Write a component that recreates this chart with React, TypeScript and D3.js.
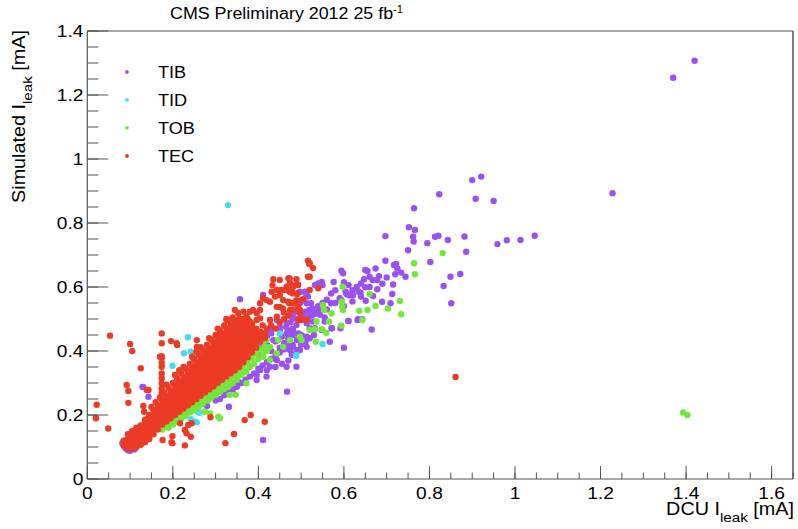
import React from "react";
import * as d3 from "d3";

const W = 798;
const H = 529;

const xMajorTicks = [0, 0.2, 0.4, 0.6, 0.8, 1, 1.2, 1.4, 1.6];
const xTickLabels = ["0", "0.2", "0.4", "0.6", "0.8", "1", "1.2", "1.4", "1.6"];
const yMajorTicks = [0, 0.2, 0.4, 0.6, 0.8, 1, 1.2, 1.4];
const yTickLabels = ["0", "0.2", "0.4", "0.6", "0.8", "1", "1.2", "1.4"];

const seriesNames = ["TIB", "TID", "TOB", "TEC"];
const seriesColors = ["#9b51f2", "#46dcf0", "#72e83a", "#ec3b25"];

type P = [number, number];

const tib: P[] = [
  [1.42, 1.307], [1.37, 1.254], [1.228, 0.893], [1.046, 0.76], [1.013, 0.747], [0.981, 0.746], [0.959, 0.734],
  [0.9, 0.934], [0.921, 0.945], [0.823, 0.89], [0.908, 0.876], [0.95, 0.869], [0.764, 0.846], [0.752, 0.787],
  [0.766, 0.778], [0.697, 0.759], [0.762, 0.757], [0.763, 0.742], [0.813, 0.757], [0.821, 0.76], [0.843, 0.747],
  [0.882, 0.758], [0.795, 0.737], [0.75, 0.715], [0.886, 0.71], [0.697, 0.682], [0.802, 0.678], [0.722, 0.672],
  [0.717, 0.669], [0.725, 0.658], [0.674, 0.658], [0.65, 0.653], [0.655, 0.65], [0.594, 0.651], [0.598, 0.643],
  [0.734, 0.645], [0.744, 0.632], [0.849, 0.632], [0.872, 0.641], [0.833, 0.603], [0.851, 0.549], [0.66, 0.632],
  [0.682, 0.634], [0.667, 0.622], [0.678, 0.622], [0.647, 0.624], [0.64, 0.611], [0.715, 0.608], [0.576, 0.616],
  [0.6, 0.615], [0.611, 0.606], [0.65, 0.599], [0.678, 0.593], [0.604, 0.585], [0.606, 0.578], [0.612, 0.574],
  [0.621, 0.574], [0.634, 0.585], [0.639, 0.582], [0.668, 0.572], [0.713, 0.578], [0.594, 0.559], [0.651, 0.557],
  [0.689, 0.554], [0.709, 0.549], [0.632, 0.497], [0.611, 0.494], [0.665, 0.467], [0.592, 0.471], [0.6, 0.41],
  [0.57, 0.549], [0.572, 0.471],
  [0.532, 0.606], [0.54, 0.611], [0.55, 0.606], [0.548, 0.616], [0.51, 0.582], [0.513, 0.575], [0.497, 0.585],
  [0.499, 0.554], [0.513, 0.549], [0.523, 0.549], [0.526, 0.533], [0.519, 0.528], [0.51, 0.523], [0.505, 0.513],
  [0.519, 0.509], [0.528, 0.513], [0.54, 0.526], [0.544, 0.513], [0.555, 0.505], [0.481, 0.523], [0.483, 0.502],
  [0.489, 0.481], [0.478, 0.466], [0.493, 0.455], [0.474, 0.434], [0.481, 0.413], [0.493, 0.403], [0.478, 0.388],
  [0.505, 0.445], [0.52, 0.471], [0.532, 0.471], [0.527, 0.492], [0.536, 0.518], [0.548, 0.466], [0.571, 0.471],
  [0.555, 0.492], [0.567, 0.429], [0.593, 0.478], [0.61, 0.494], [0.633, 0.499], [0.643, 0.499],
  [0.357, 0.562], [0.411, 0.575], [0.326, 0.497], [0.509, 0.585], [0.516, 0.57], [0.497, 0.549], [0.489, 0.523],
  [0.481, 0.507], [0.466, 0.487], [0.443, 0.497], [0.45, 0.476], [0.427, 0.466], [0.435, 0.434], [0.466, 0.455],
  [0.481, 0.466], [0.497, 0.434], [0.474, 0.403], [0.513, 0.487], [0.513, 0.445], [0.443, 0.372], [0.466, 0.351],
  [0.427, 0.351], [0.404, 0.341], [0.38, 0.32], [0.396, 0.325], [0.419, 0.32], [0.489, 0.351], [0.497, 0.403],
  [0.513, 0.413],
  [0.411, 0.122], [0.467, 0.273], [0.331, 0.226], [0.349, 0.288], [0.353, 0.304], [0.396, 0.309], [0.131, 0.287],
  [0.143, 0.257], [0.129, 0.288],
  [0.082, 0.112], [0.086, 0.102], [0.09, 0.095], [0.095, 0.09], [0.1, 0.088], [0.088, 0.12], [0.11, 0.092],
  [0.26, 0.21], [0.28, 0.228], [0.3, 0.245], [0.31, 0.25], [0.32, 0.262], [0.33, 0.27], [0.34, 0.28], [0.35, 0.29],
  [0.36, 0.3], [0.37, 0.31], [0.39, 0.33], [0.4, 0.345], [0.41, 0.355], [0.42, 0.365], [0.43, 0.375], [0.44, 0.385],
  [0.45, 0.395], [0.46, 0.405], [0.47, 0.415], [0.48, 0.42], [0.42, 0.34], [0.44, 0.35], [0.455, 0.36], [0.47, 0.37],
  [0.48, 0.39], [0.49, 0.4], [0.5, 0.42], [0.51, 0.43], [0.52, 0.44], [0.53, 0.45], [0.43, 0.4], [0.45, 0.41],
  [0.46, 0.425], [0.47, 0.44], [0.48, 0.45], [0.49, 0.435], [0.5, 0.45], [0.4, 0.39], [0.41, 0.41], [0.42, 0.42],
  [0.44, 0.43], [0.455, 0.445], [0.47, 0.46], [0.48, 0.47], [0.39, 0.4], [0.4, 0.42], [0.42, 0.445], [0.43, 0.455],
  [0.45, 0.465], [0.465, 0.475], [0.475, 0.49], [0.49, 0.5], [0.5, 0.51], [0.53, 0.53], [0.54, 0.54], [0.55, 0.55],
  [0.56, 0.56], [0.57, 0.58], [0.58, 0.59], [0.56, 0.53], [0.58, 0.55], [0.59, 0.565], [0.62, 0.59], [0.63, 0.6],
  [0.6, 0.54], [0.62, 0.555], [0.64, 0.57], [0.66, 0.6], [0.69, 0.61], [0.7, 0.63], [0.72, 0.64],
];

const tid: P[] = [
  [0.329, 0.856], [0.235, 0.443], [0.226, 0.393], [0.242, 0.398], [0.267, 0.395], [0.199, 0.354], [0.248, 0.377],
  [0.252, 0.179], [0.26, 0.21], [0.242, 0.187], [0.256, 0.177], [0.262, 0.207], [0.24, 0.221], [0.26, 0.236],
  [0.45, 0.455], [0.489, 0.388], [0.47, 0.591], [0.55, 0.422], [0.488, 0.384],
];

const tob: P[] = [
  [1.393, 0.208], [1.403, 0.2],
  [0.831, 0.706], [0.764, 0.674], [0.766, 0.64], [0.597, 0.601], [0.66, 0.578], [0.674, 0.541], [0.731, 0.556],
  [0.703, 0.533], [0.734, 0.515], [0.655, 0.528], [0.636, 0.526], [0.643, 0.497], [0.594, 0.479], [0.598, 0.528],
  [0.596, 0.539], [0.595, 0.554], [0.571, 0.518], [0.565, 0.492], [0.559, 0.457], [0.551, 0.544], [0.554, 0.528],
  [0.536, 0.492], [0.549, 0.468], [0.532, 0.468], [0.534, 0.429], [0.52, 0.466], [0.501, 0.434],
  [0.396, 0.445], [0.404, 0.434], [0.419, 0.434], [0.427, 0.413], [0.446, 0.434], [0.458, 0.413], [0.474, 0.434],
  [0.497, 0.445], [0.443, 0.393], [0.427, 0.372], [0.411, 0.382], [0.396, 0.413], [0.38, 0.393], [0.365, 0.372],
  [0.357, 0.351], [0.349, 0.33], [0.372, 0.335],
  [0.275, 0.21], [0.306, 0.195], [0.31, 0.19], [0.283, 0.247], [0.287, 0.205], [0.333, 0.263], [0.347, 0.263],
  [0.372, 0.299],
  [0.175, 0.155], [0.185, 0.163], [0.195, 0.172], [0.205, 0.183], [0.215, 0.192], [0.225, 0.203], [0.235, 0.212],
  [0.245, 0.222], [0.255, 0.232], [0.265, 0.242], [0.275, 0.252], [0.285, 0.262], [0.295, 0.272], [0.305, 0.282],
  [0.315, 0.292], [0.325, 0.302], [0.335, 0.312], [0.345, 0.322], [0.355, 0.332], [0.365, 0.347], [0.375, 0.362],
  [0.385, 0.377], [0.395, 0.392], [0.405, 0.405], [0.415, 0.415],
  [0.19, 0.16], [0.2, 0.17], [0.21, 0.178], [0.22, 0.19], [0.23, 0.198], [0.24, 0.208], [0.25, 0.215], [0.26, 0.227],
  [0.27, 0.235], [0.28, 0.245], [0.29, 0.255], [0.3, 0.262], [0.31, 0.272], [0.32, 0.282], [0.33, 0.29], [0.34, 0.3],
  [0.35, 0.31], [0.36, 0.325], [0.37, 0.335], [0.38, 0.35], [0.39, 0.36], [0.4, 0.375], [0.41, 0.39], [0.42, 0.4],
];

const tecOutliers: P[] = [
  [0.053, 0.448], [0.174, 0.455], [0.174, 0.424], [0.196, 0.431], [0.21, 0.419], [0.1, 0.422], [0.105, 0.4],
  [0.174, 0.384], [0.174, 0.377], [0.174, 0.363], [0.174, 0.351], [0.174, 0.33], [0.174, 0.315], [0.174, 0.299],
  [0.174, 0.283], [0.174, 0.268], [0.125, 0.346], [0.092, 0.294], [0.096, 0.275], [0.096, 0.238], [0.139, 0.278],
  [0.131, 0.228], [0.133, 0.21], [0.143, 0.19], [0.022, 0.232], [0.02, 0.19], [0.049, 0.158], [0.176, 0.122],
  [0.199, 0.134], [0.199, 0.112], [0.228, 0.105], [0.242, 0.132], [0.228, 0.153], [0.217, 0.174], [0.197, 0.115],
  [0.232, 0.143], [0.236, 0.169], [0.244, 0.174], [0.288, 0.193], [0.323, 0.112], [0.343, 0.141], [0.368, 0.184],
  [0.382, 0.2], [0.415, 0.179], [0.861, 0.319], [0.17, 0.382], [0.209, 0.424], [0.256, 0.413], [0.256, 0.434],
  [0.298, 0.424], [0.31, 0.455], [0.143, 0.278],
  [0.516, 0.682], [0.519, 0.672], [0.528, 0.659], [0.516, 0.632], [0.473, 0.627], [0.492, 0.608], [0.482, 0.605],
  [0.473, 0.585], [0.48, 0.58], [0.491, 0.578], [0.505, 0.562], [0.473, 0.549], [0.485, 0.549], [0.499, 0.497],
  [0.505, 0.499], [0.52, 0.591], [0.54, 0.596], [0.497, 0.528], [0.435, 0.624], [0.45, 0.622], [0.472, 0.627],
  [0.493, 0.606], [0.489, 0.624], [0.433, 0.606], [0.443, 0.591], [0.454, 0.591], [0.466, 0.601], [0.478, 0.585],
  [0.489, 0.58], [0.439, 0.57], [0.45, 0.575], [0.458, 0.559], [0.47, 0.554], [0.481, 0.549], [0.427, 0.554],
  [0.443, 0.538], [0.457, 0.533], [0.474, 0.528], [0.493, 0.538], [0.501, 0.559], [0.493, 0.497], [0.513, 0.497],
  [0.404, 0.549], [0.411, 0.565], [0.419, 0.559], [0.404, 0.528], [0.396, 0.518], [0.38, 0.523], [0.365, 0.523],
  [0.353, 0.518], [0.349, 0.497], [0.333, 0.497], [0.396, 0.497], [0.372, 0.507], [0.38, 0.492], [0.404, 0.502],
  [0.345, 0.528], [0.388, 0.528], [0.431, 0.585], [0.462, 0.591], [0.474, 0.612], [0.481, 0.601], [0.47, 0.627],
  [0.52, 0.674], [0.52, 0.632], [0.489, 0.559], [0.481, 0.528], [0.497, 0.518], [0.45, 0.538], [0.443, 0.507],
  [0.427, 0.497], [0.41, 0.48], [0.42, 0.47], [0.43, 0.48], [0.39, 0.47], [0.4, 0.46], [0.37, 0.48], [0.36, 0.5],
  [0.38, 0.455], [0.415, 0.45], [0.44, 0.47], [0.45, 0.49], [0.46, 0.5], [0.46, 0.52], [0.47, 0.51],
  // fringe along the upper-left edge of the dense cloud
  [0.15, 0.225], [0.16, 0.24], [0.17, 0.255], [0.18, 0.27], [0.19, 0.285], [0.2, 0.3], [0.21, 0.315], [0.22, 0.33],
  [0.23, 0.345], [0.24, 0.36], [0.25, 0.375], [0.26, 0.39], [0.27, 0.405], [0.28, 0.42], [0.29, 0.435], [0.3, 0.45],
  [0.31, 0.465], [0.32, 0.48], [0.33, 0.495], [0.34, 0.505], [0.185, 0.295], [0.205, 0.325], [0.225, 0.35],
  [0.245, 0.382], [0.265, 0.412], [0.285, 0.44], [0.305, 0.47], [0.325, 0.5], [0.215, 0.34], [0.255, 0.398],
  [0.405, 0.43], [0.405, 0.445], [0.405, 0.46], [0.415, 0.44], [0.415, 0.455],
];

// dense core of the TEC cloud, read column by column: [x, y values]
const tecCore: [number, number[]][] = [
  [0.085, [0.105, 0.12]],
  [0.095, [0.095, 0.11, 0.125, 0.14]],
  [0.105, [0.095, 0.11, 0.125, 0.14, 0.15]],
  [0.115, [0.1, 0.115, 0.13, 0.145, 0.16]],
  [0.125, [0.107, 0.122, 0.137, 0.152, 0.167]],
  [0.135, [0.115, 0.13, 0.145, 0.16, 0.175, 0.185]],
  [0.145, [0.125, 0.14, 0.155, 0.17, 0.185, 0.2]],
  [0.155, [0.14, 0.155, 0.17, 0.185, 0.2, 0.215]],
  [0.165, [0.155, 0.17, 0.185, 0.2, 0.215, 0.23]],
  [0.175, [0.17, 0.185, 0.2, 0.215, 0.23, 0.245]],
  [0.185, [0.18, 0.195, 0.21, 0.225, 0.24, 0.255, 0.26]],
  [0.195, [0.19, 0.205, 0.22, 0.235, 0.25, 0.265, 0.275]],
  [0.205, [0.2, 0.215, 0.23, 0.245, 0.26, 0.275, 0.29]],
  [0.215, [0.21, 0.225, 0.24, 0.255, 0.27, 0.285, 0.3, 0.305]],
  [0.225, [0.22, 0.235, 0.25, 0.265, 0.28, 0.295, 0.31, 0.32]],
  [0.235, [0.23, 0.245, 0.26, 0.275, 0.29, 0.305, 0.32, 0.335]],
  [0.245, [0.24, 0.255, 0.27, 0.285, 0.3, 0.315, 0.33, 0.345, 0.35]],
  [0.255, [0.25, 0.265, 0.28, 0.295, 0.31, 0.325, 0.34, 0.355, 0.365]],
  [0.265, [0.26, 0.275, 0.29, 0.305, 0.32, 0.335, 0.35, 0.365, 0.38]],
  [0.275, [0.27, 0.285, 0.3, 0.315, 0.33, 0.345, 0.36, 0.375, 0.39, 0.395]],
  [0.285, [0.28, 0.295, 0.31, 0.325, 0.34, 0.355, 0.37, 0.385, 0.4, 0.41]],
  [0.295, [0.29, 0.305, 0.32, 0.335, 0.35, 0.365, 0.38, 0.395, 0.41, 0.425]],
  [0.305, [0.3, 0.315, 0.33, 0.345, 0.36, 0.375, 0.39, 0.405, 0.42, 0.435, 0.44]],
  [0.315, [0.31, 0.325, 0.34, 0.355, 0.37, 0.385, 0.4, 0.415, 0.43, 0.445, 0.455]],
  [0.325, [0.32, 0.335, 0.35, 0.365, 0.38, 0.395, 0.41, 0.425, 0.44, 0.455, 0.47]],
  [0.335, [0.33, 0.345, 0.36, 0.375, 0.39, 0.405, 0.42, 0.435, 0.45, 0.465, 0.48]],
  [0.345, [0.34, 0.355, 0.37, 0.385, 0.4, 0.415, 0.43, 0.445, 0.46, 0.475, 0.49]],
  [0.355, [0.35, 0.365, 0.38, 0.395, 0.41, 0.425, 0.44, 0.455, 0.47, 0.485, 0.5]],
  [0.365, [0.365, 0.38, 0.395, 0.41, 0.425, 0.44, 0.455, 0.47, 0.485, 0.5]],
  [0.375, [0.38, 0.395, 0.41, 0.425, 0.44, 0.455, 0.47, 0.485, 0.5]],
  [0.385, [0.395, 0.41, 0.425, 0.44, 0.455, 0.47, 0.485]],
  [0.395, [0.41, 0.425, 0.44, 0.455, 0.47]],
];

const tec: P[] = [
  ...tecCore.flatMap(([x, ys]) => ys.map((y) => [x, y] as P)),
  ...tecOutliers,
];

const seriesData = [tib, tid, tob, tec];

const SX = 1.13;
const FONT = "'Liberation Sans', Arial, Helvetica, sans-serif";

function T(props: {
  x: number;
  y: number;
  size: number;
  anchor?: string;
  rotate?: number;
  children: React.ReactNode;
}) {
  const { x, y, size, anchor = "start", rotate = 0, children } = props;
  return (
    <text
      transform={`translate(${x},${y}) rotate(${rotate}) scale(${SX},1)`}
      fontSize={size}
      fontFamily={FONT}
      textAnchor={anchor}
      fill="#000"
    >
      {children}
    </text>
  );
}

export default function App() {
  const left = 87.3;
  const right = 793;
  const top = 31;
  const bottom = 479;
  const x = d3.scaleLinear().domain([0, 1.65]).range([left, right]);
  const y = d3.scaleLinear().domain([0, 1.4]).range([bottom, top]);

  const xMinor = d3.range(0, 1.651, 0.05);
  const yMinor = d3.range(0, 1.401, 0.05);
  const axisColor = "#555";
  const r = 3.2;

  const legendY = [72, 99.8, 127.8, 156];

  return (
    <svg
      width={W}
      height={H}
      style={{ position: "absolute", left: 0, top: 0, background: "#fff" }}
    >
      <rect x={0} y={0} width={W} height={H} fill="#fff" />
      {seriesData.map((pts, si) => (
        <g key={si} fill={seriesColors[si]}>
          {pts.map((p, i) => (
            <circle key={i} cx={x(p[0])} cy={y(p[1])} r={r} />
          ))}
        </g>
      ))}
      {/* frame */}
      <line x1={left} x2={right} y1={top} y2={top} stroke={axisColor} strokeWidth={1} />
      <line x1={right} x2={right} y1={top} y2={bottom} stroke={axisColor} strokeWidth={1.5} />
      <line x1={left} x2={right} y1={bottom} y2={bottom} stroke={axisColor} strokeWidth={1.2} />
      <line x1={left} x2={left} y1={top} y2={bottom} stroke={axisColor} strokeWidth={1.2} />
      {/* x ticks */}
      {xMinor.map((v, i) => (
        <line key={"xm" + i} x1={x(v)} x2={x(v)} y1={bottom} y2={bottom - 6.5} stroke={axisColor} strokeWidth={1} />
      ))}
      {xMajorTicks.map((v, i) => (
        <line key={"xM" + i} x1={x(v)} x2={x(v)} y1={bottom} y2={bottom - 13} stroke={axisColor} strokeWidth={1} />
      ))}
      {xMajorTicks.map((v, i) => (
        <T key={"xl" + i} x={x(v)} y={498.5} size={17} anchor="middle">
          {xTickLabels[i]}
        </T>
      ))}
      {/* y ticks */}
      {yMinor.map((v, i) => (
        <line key={"ym" + i} x1={left} x2={left + 11} y1={y(v)} y2={y(v)} stroke={axisColor} strokeWidth={1} />
      ))}
      {yMajorTicks.map((v, i) => (
        <line key={"yM" + i} x1={left} x2={left + 21} y1={y(v)} y2={y(v)} stroke={axisColor} strokeWidth={1} />
      ))}
      {yMajorTicks.map((v, i) => (
        <T key={"yl" + i} x={83.5} y={y(v) + 6.2} size={17} anchor="end">
          {yTickLabels[i]}
        </T>
      ))}
      {/* title */}
      <T x={170} y={19} size={15.8}>
        CMS Preliminary 2012 25 fb
        <tspan fontSize={10} dy={-6}>-1</tspan>
      </T>
      {/* x axis title */}
      <T x={794} y={515} size={17.5} anchor="end">
        DCU I
        <tspan fontSize={13.5} dy={7}>leak</tspan>
        <tspan dy={-7}> [mA]</tspan>
      </T>
      {/* y axis title */}
      <T x={25} y={30} size={17.5} anchor="end" rotate={-90}>
        Simulated I
        <tspan fontSize={13.5} dy={7}>leak</tspan>
        <tspan dy={-7}> [mA]</tspan>
      </T>
      {/* legend */}
      {seriesNames.map((name, i) => (
        <g key={name}>
          <circle cx={127} cy={legendY[i]} r={1.9} fill={seriesColors[i]} />
          <T x={158} y={legendY[i] + 6} size={16}>
            {name}
          </T>
        </g>
      ))}
    </svg>
  );
}
